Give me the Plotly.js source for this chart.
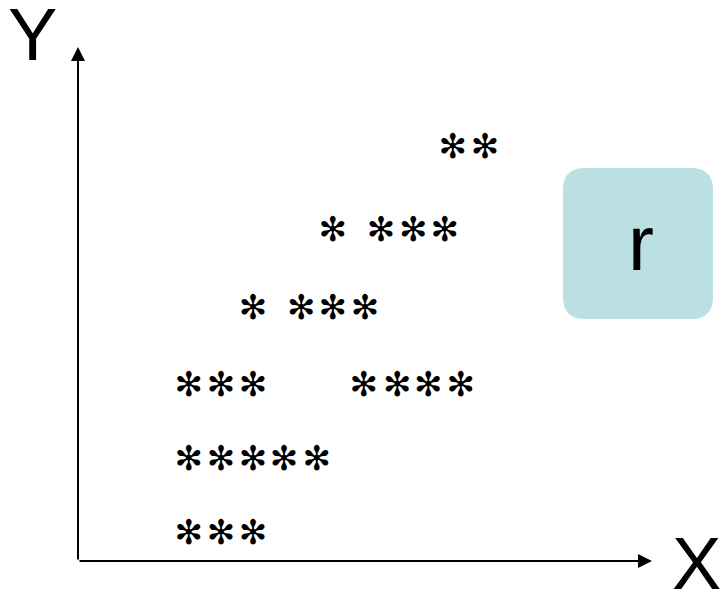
<!DOCTYPE html>
<html>
<head>
<meta charset="utf-8">
<script src="https://cdn.plot.ly/plotly-3.0.1.min.js"></script>
<style>
  html, body { margin: 0; padding: 0; background: #fff; }
  #chart { width: 721px; height: 591px; }
</style>
</head>
<body>
<div id="chart"></div>
<script>
// Scatter of observations, one asterisk per point
const xValues = [
  1.93, 2.49, 3.05,
  1.93, 2.49, 3.05, 3.59, 4.16,
  1.93, 2.49, 3.05, 4.98, 5.56, 6.10, 6.67,
  3.05, 3.89, 4.44, 5.00,
  4.44, 5.28, 5.84, 6.39,
  6.53, 7.09
];
const yValues = [
  0.49, 0.49, 0.49,
  1.93, 1.93, 1.93, 1.93, 1.93,
  3.37, 3.37, 3.37, 3.37, 3.37, 3.37, 3.37,
  4.88, 4.88, 4.88, 4.88,
  6.40, 6.40, 6.40, 6.40,
  8.00, 8.00
];
const pointSymbol = '\u273B';
const axisLabels = { x: 'X', y: 'Y' };
const coefLabel = 'r';

const W = 721, H = 591;
const margin = { l: 78, r: 69, t: 47, b: 30 };
const plotW = W - margin.l - margin.r;
const plotH = H - margin.t - margin.b;
// pixel -> paper helpers for the decorations
const px = v => (v - margin.l) / plotW;
const py = v => (H - margin.b - v) / plotH;

const trace = {
  type: 'scatter',
  mode: 'text',
  x: xValues,
  y: yValues,
  text: xValues.map(() => pointSymbol),
  textposition: 'middle center',
  textfont: { family: 'DejaVu Sans', size: 34, color: '#000' },
  hoverinfo: 'skip',
  showlegend: false,
  cliponaxis: false
};

// rounded box behind the r label
const bx0 = px(563), bx1 = px(713), by0 = py(319), by1 = py(168);
const rx = 22 / plotW, ry = 22 / plotH;
const boxPath = [
  `M ${bx0 + rx} ${by0}`,
  `L ${bx1 - rx} ${by0}`,
  `Q ${bx1} ${by0} ${bx1} ${by0 + ry}`,
  `L ${bx1} ${by1 - ry}`,
  `Q ${bx1} ${by1} ${bx1 - rx} ${by1}`,
  `L ${bx0 + rx} ${by1}`,
  `Q ${bx0} ${by1} ${bx0} ${by1 - ry}`,
  `L ${bx0} ${by0 + ry}`,
  `Q ${bx0} ${by0} ${bx0 + rx} ${by0}`,
  'Z'
].join(' ');

const layout = {
  width: W,
  height: H,
  margin: margin,
  paper_bgcolor: '#fff',
  plot_bgcolor: '#fff',
  xaxis: { range: [0, 10], visible: false, fixedrange: true },
  yaxis: { range: [0, 10], visible: false, fixedrange: true },
  shapes: [
    {
      type: 'path', xref: 'paper', yref: 'paper', path: boxPath,
      fillcolor: '#bbe0e3', line: { width: 0 }, layer: 'below'
    }
  ],
  annotations: [
    // y axis arrow
    {
      xref: 'paper', yref: 'paper', x: 0, y: 1, ax: 0, ay: plotH,
      text: '', showarrow: true, arrowhead: 2, arrowsize: 1.4, arrowwidth: 2,
      arrowcolor: '#000', standoff: 0
    },
    // x axis arrow
    {
      xref: 'paper', yref: 'paper', x: 1, y: 0, ax: -plotW, ay: 0,
      text: '', showarrow: true, arrowhead: 2, arrowsize: 1.4, arrowwidth: 2,
      arrowcolor: '#000', standoff: 0
    },
    {
      xref: 'paper', yref: 'paper', x: px(32), y: py(34),
      xanchor: 'center', yanchor: 'middle', showarrow: false,
      text: axisLabels.y,
      font: { family: 'Liberation Sans, Arial, sans-serif', size: 74, color: '#000' }
    },
    {
      xref: 'paper', yref: 'paper', x: px(696), y: py(563),
      xanchor: 'center', yanchor: 'middle', showarrow: false,
      text: axisLabels.x,
      font: { family: 'Liberation Sans, Arial, sans-serif', size: 74, color: '#000' }
    },
    {
      xref: 'paper', yref: 'paper', x: px(641), y: py(243),
      xanchor: 'center', yanchor: 'middle', showarrow: false,
      text: coefLabel,
      font: { family: 'Liberation Sans, Arial, sans-serif', size: 78, color: '#000' }
    }
  ]
};

Plotly.newPlot('chart', [trace], layout, { staticPlot: true, displayModeBar: false });
</script>
</body>
</html>
